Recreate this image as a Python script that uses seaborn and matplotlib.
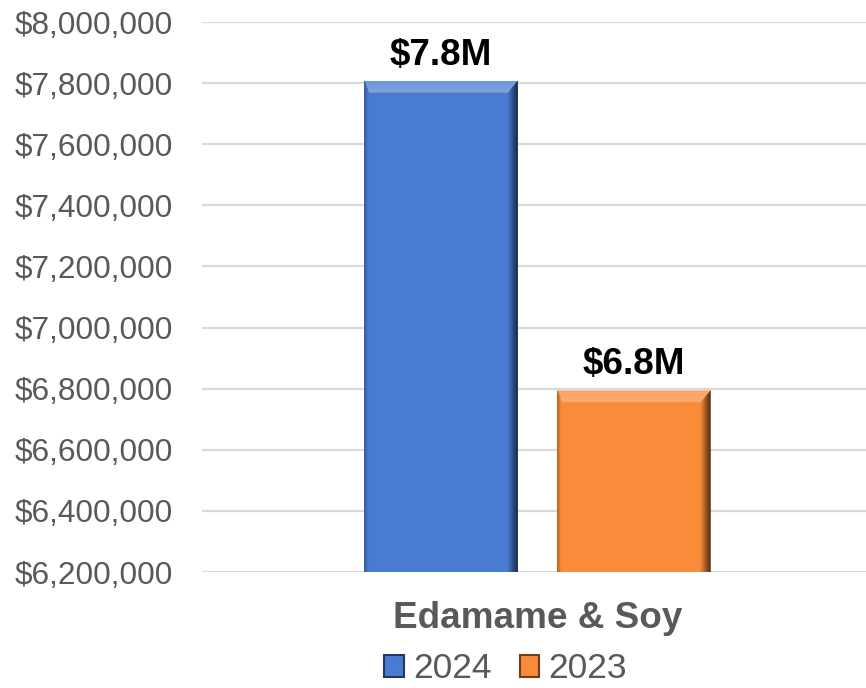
import numpy as np
import pandas as pd
import matplotlib
matplotlib.use("Agg")
import matplotlib.pyplot as plt
from matplotlib.patches import Polygon
from matplotlib.colors import to_rgb
from matplotlib.ticker import FuncFormatter, MultipleLocator
import seaborn as sns

# Sales by year for the product group
categories = ["Edamame & Soy", "Edamame & Soy"]
years = ["2024", "2023"]
sales = [7806000, 6793000]
value_labels = ["$7.8M", "$6.8M"]
bar_colors = ["#4A7BD2", "#FA8B39"]
y_range = (6200000, 8000000)
y_step = 200000

sns.set_theme(style="white")
plt.rcParams["font.family"] = ["Liberation Sans", "DejaVu Sans"]

GRAY = "#595959"

df = pd.DataFrame({"category": categories, "year": years, "sales": sales})

fig = plt.figure(figsize=(8.66, 6.88), dpi=100)
ax = fig.add_axes([202 / 866, 116 / 688, 671 / 866, 550 / 688])

sns.barplot(data=df, x="category", y="sales", hue="year", hue_order=years,
            palette=bar_colors, saturation=1, width=0.575, gap=0.207,
            linewidth=0, ax=ax, zorder=3)

ax.set_xlim(-0.5, 0.5)
ax.set_ylim(*y_range)
ax.yaxis.set_major_locator(MultipleLocator(y_step))
ax.yaxis.set_major_formatter(FuncFormatter(lambda v, _: f"${v:,.0f}"))
ax.grid(axis="y", color="#D9D9D9", linewidth=1.6, zorder=0)
ax.set_axisbelow(True)
for s in ax.spines.values():
    s.set_visible(False)
ax.tick_params(axis="y", length=0, pad=21, labelsize=22.7, labelcolor=GRAY)
ax.tick_params(axis="x", length=0, pad=21, labelsize=26.6, labelcolor=GRAY)
for t in ax.get_xticklabels():
    t.set_fontweight("bold")
ax.set_xlabel("")
ax.set_ylabel("")


def mix(c, target, f):
    c = np.array(to_rgb(c))
    t = np.array(to_rgb(target))
    return tuple(c * (1 - f) + t * f)


def add_bevel(ax, patch, base, sizes=(4, 11, 9, 9), n=10):
    """Shade the four borders of a bar to give it a raised look."""
    x, y, w, h = patch.get_x(), patch.get_y(), patch.get_width(), patch.get_height()
    (X0, Y0), (X1, Y1) = ax.transData.transform([(x, y), (x + w, y + h)])
    l, t, r, b = sizes
    inv = ax.transData.inverted()

    def corners(f):
        return (X0 + l * f, Y0 + b * f, X1 - r * f, Y1 - t * f)

    shades = {
        "top": (mix(base, "white", 0.22), mix(base, "white", 0.30)),
        "right": (mix(base, "black", 0.70), mix(base, "black", 0.10)),
        "bottom": (mix(base, "black", 0.50), mix(base, "black", 0.05)),
        "left": (mix(base, "black", 0.30), base),
    }
    for i in range(n):
        fa, fb = i / n, (i + 1) / n
        a0x, a0y, a1x, a1y = corners(fa)
        b0x, b0y, b1x, b1y = corners(fb)
        polys = {
            "top": [(a0x, a1y), (a1x, a1y), (b1x, b1y), (b0x, b1y)],
            "right": [(a1x, a1y), (a1x, a0y), (b1x, b0y), (b1x, b1y)],
            "bottom": [(a0x, a0y), (a1x, a0y), (b1x, b0y), (b0x, b0y)],
            "left": [(a0x, a0y), (a0x, a1y), (b0x, b1y), (b0x, b0y)],
        }
        for side, pts in polys.items():
            c_out, c_in = shades[side]
            col = mix(c_out, c_in, (i + 0.5) / n)
            ax.add_patch(Polygon(inv.transform(pts), closed=True,
                                 facecolor=col, edgecolor=col, linewidth=0.4,
                                 zorder=4))


for container, color, label in zip(ax.containers, bar_colors, value_labels):
    for patch in container:
        add_bevel(ax, patch, color)
    ax.bar_label(container, labels=[label], padding=6, fontsize=26.6,
                 fontweight="bold", color="black")

sns.move_legend(ax, "center", bbox_to_anchor=(505.5 / 866, 19 / 688),
                bbox_transform=fig.transFigure, ncol=2, frameon=False,
                title=None, fontsize=25.5, handlelength=0.56, handleheight=0.56,
                handletextpad=0.25, columnspacing=0.8, borderpad=0,
                borderaxespad=0)
leg = ax.get_legend()
for txt in leg.get_texts():
    txt.set_color(GRAY)
for handle, color in zip(leg.legend_handles, bar_colors):
    handle.set_edgecolor(mix(color, "black", 0.55))
    handle.set_linewidth(1.5)

fig.savefig("out.png", dpi=100)
